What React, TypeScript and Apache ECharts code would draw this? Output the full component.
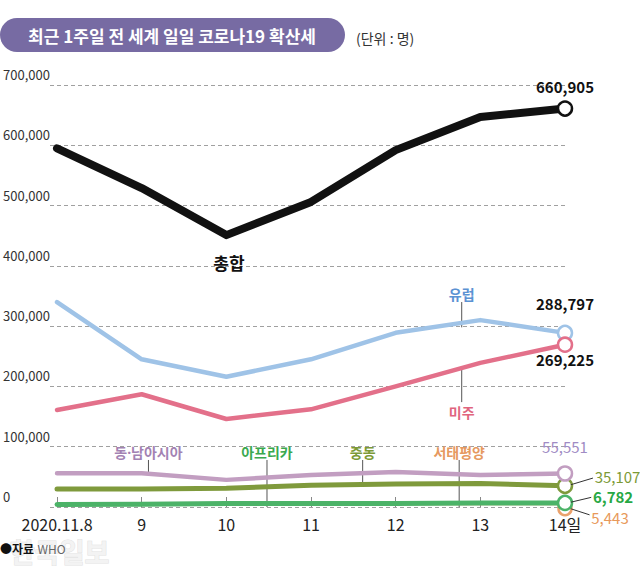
import React, { useEffect, useRef } from "react";
import * as echarts from "echarts";

const dates = ["2020.11.8", "9", "10", "11", "12", "13", "14일"];
const yTicks = [0, 100000, 200000, 300000, 400000, 500000, 600000, 700000];
const total = [595000, 529000, 451000, 506000, 592000, 647000, 660905];
const europe = [340000, 245000, 216000, 245000, 289000, 310000, 288797];
const americas = [161000, 187000, 146000, 162000, 200000, 239000, 269225];
const seAsia = [56000, 56000, 45000, 53000, 58000, 53000, 55551];
const middleEast = [30000, 30000, 31000, 36000, 38000, 39000, 35107];
const africa = [4000, 4500, 6000, 5800, 6000, 6800, 6782];
const westPacific = [4500, 5000, 5000, 4800, 5200, 5500, 5443];

const FONT = "'Noto Sans CJK KR', 'Noto Sans', sans-serif";
const FONT_LATIN_FIRST = "'Noto Sans', 'Noto Sans CJK KR', sans-serif";

const C = {
  total: "#111111",
  europe: "#9fc3e7",
  americas: "#e3708a",
  seAsia: "#c29ec1",
  middleEast: "#7f9a3c",
  africa: "#4cb368",
  westPacific: "#eaa26c",
};

// annotation placements (data space)
const nameLabels = [
  { text: "총합", x: 2.03, y: 405000, color: "#111", size: 17, weight: "bold", lead: null, font: FONT },
  { text: "유럽", x: 4.78, y: 353000, color: "#5b92d3", size: 14, weight: "bold", lead: [340000, 298000], font: FONT },
  { text: "미주", x: 4.78, y: 157000, color: "#e0647e", size: 14, weight: "bold", lead: [232000, 174000], font: FONT },
  { text: "동·남아시아", x: 1.08, y: 91000, color: "#a382b3", size: 14, weight: "bold", lead: [78000, 56000], font: FONT_LATIN_FIRST },
  { text: "아프리카", x: 2.48, y: 91000, color: "#3aa94e", size: 14, weight: "bold", lead: [78000, 0], font: FONT },
  { text: "중동", x: 3.61, y: 91000, color: "#7c9a36", size: 14, weight: "bold", lead: [78000, 37000], font: FONT },
  { text: "서태평양", x: 4.75, y: 91000, color: "#e6995f", size: 14, weight: "bold", lead: [78000, 0], font: FONT },
];

const endLabels = [
  { text: "660,905", x: 6.0, y: 698000, color: "#111", align: "center", weight: "bold", lead: null },
  { text: "288,797", x: 6.0, y: 337000, color: "#111", align: "center", weight: "bold", lead: null },
  { text: "269,225", x: 6.0, y: 244000, color: "#111", align: "center", weight: "bold", lead: null },
  { text: "55,551", x: 6.0, y: 100000, color: "#a08bc4", align: "center", weight: "normal", lead: null },
  { text: "35,107", x: 6.35, y: 51000, color: "#7c9a36", align: "left", weight: "normal", lead: [6.07, 37000, 6.33, 48000] },
  { text: "6,782", x: 6.33, y: 18000, color: "#27a844", align: "left", weight: "bold", lead: [6.07, 8000, 6.31, 16000] },
  { text: "5,443", x: 6.31, y: -17000, color: "#e8995a", align: "left", weight: "normal", lead: [6.07, -3000, 6.29, -13000] },
];

function makeSeries(name: string, vals: number[], color: string, width: number, size: number, z: number, offset = 0) {
  return {
    name,
    type: "line",
    z,
    data: vals.map((v, i) => [i, v]),
    symbol: (_v: any, p: any) => (p.dataIndex === vals.length - 1 ? "circle" : "none"),
    symbolSize: size,
    symbolOffset: [0, offset],
    showSymbol: true,
    lineStyle: { color, width, cap: "round", join: "round" },
    itemStyle: { color: "#ffffff", borderColor: color, borderWidth: 2.5 },
    emphasis: { disabled: true },
    clip: false,
  };
}

export default function App() {
  const ref = useRef<HTMLDivElement>(null);
  useEffect(() => {
    if (!ref.current) return;
    const chart = echarts.init(ref.current, null, { renderer: "svg" });
    const option: any = {
      animation: false,
      backgroundColor: "#ffffff",
      textStyle: { fontFamily: FONT },
      grid: { left: 50, right: 75, top: 85, bottom: 64 },
      xAxis: {
        type: "value",
        min: -0.083,
        max: 6.0,
        axisLine: { show: false },
        splitLine: { show: false },
        axisTick: {
          show: true,
          inside: true,
          length: 10,
          customValues: dates.map((_, i) => i),
          lineStyle: { color: "#888", width: 1 },
        },
        axisLabel: {
          customValues: dates.map((_, i) => i),
          formatter: (v: number) => dates[Math.round(v)] ?? "",
          color: "#222",
          fontSize: 16,
          margin: 9,
          fontFamily: FONT,
        },
      },
      yAxis: {
        type: "value",
        min: yTicks[0],
        max: yTicks[yTicks.length - 1],
        interval: 100000,
        axisLine: { show: false },
        axisTick: { show: false },
        splitLine: { show: true, lineStyle: { type: [4, 3], color: "#a0a0a0", width: 1 } },
        axisLabel: {
          formatter: (v: number) => (v === 0 ? "0" : v.toLocaleString("en-US")),
          color: "#333",
          fontSize: 13,
          align: "left",
          verticalAlign: "bottom",
          margin: 47,
          padding: [0, 0, 4, 0],
          fontFamily: FONT,
        },
      },
      series: [
        makeSeries("서태평양", westPacific, C.westPacific, 3, 13, 2, 5),
        makeSeries("아프리카", africa, C.africa, 5, 14, 3),
        makeSeries("중동", middleEast, C.middleEast, 5, 14, 4),
        makeSeries("동·남아시아", seAsia, C.seAsia, 4.5, 14, 5),
        makeSeries("유럽", europe, C.europe, 4.5, 14, 6),
        makeSeries("미주", americas, C.americas, 4.5, 14, 7),
        makeSeries("총합", total, C.total, 8, 14, 8),
      ],
    };
    chart.setOption(option);

    const px = (x: number, y: number) => chart.convertToPixel({ gridIndex: 0 }, [x, y]) as number[];
    const g: any[] = [];
    g.push({
      type: "rect",
      shape: { x: 0, y: 18, width: 345, height: 34, r: 17 },
      style: { fill: "#776ba3" },
    });
    g.push({
      type: "text",
      x: 172,
      y: 35,
      style: {
        text: "최근 1주일 전 세계 일일 코로나19 확산세",
        fill: "#fff",
        font: `bold 17px ${FONT}`,
        align: "center",
        verticalAlign: "middle",
      },
    });
    g.push({
      type: "text",
      x: 356,
      y: 38,
      style: { text: "(단위 : 명)", fill: "#333", font: `14px ${FONT}`, align: "left", verticalAlign: "middle" },
    });
    g.push({
      type: "text",
      x: 10,
      y: 551,
      z: 0,
      style: { text: "한국일보", fill: "#f3f3f3", stroke: "#e2e2e2", lineWidth: 1, font: `bold 27px ${FONT}`, align: "left", verticalAlign: "middle" },
    });
    g.push({
      type: "text",
      x: 0,
      y: 548,
      style: {
        text: "{a|●자료} {b|WHO}",
        rich: {
          a: { fill: "#111", font: `bold 12px ${FONT}` },
          b: { fill: "#666", font: `12px ${FONT}` },
        },
        align: "left",
        verticalAlign: "middle",
      },
    });

    nameLabels.forEach((l) => {
      const p = px(l.x, l.y);
      if (l.lead) {
        const a = px(l.x, l.lead[0]);
        const b = px(l.x, l.lead[1]);
        g.push({
          type: "line",
          shape: { x1: a[0], y1: a[1], x2: b[0], y2: b[1] },
          style: { stroke: "#555", lineWidth: 1 },
          z: 1,
        });
      }
      g.push({
        type: "text",
        x: p[0],
        y: p[1],
        z: 10,
        style: { text: l.text, fill: l.color, font: `${l.weight} ${l.size}px ${l.font}`, align: "center", verticalAlign: "middle" },
      });
    });

    endLabels.forEach((l) => {
      const p = px(l.x, l.y);
      if (l.lead) {
        const a = px(l.lead[0], l.lead[1]);
        const b = px(l.lead[2], l.lead[3]);
        g.push({
          type: "line",
          shape: { x1: a[0], y1: a[1], x2: b[0], y2: b[1] },
          style: { stroke: "#333", lineWidth: 1 },
          z: 10,
        });
      }
      g.push({
        type: "text",
        x: p[0],
        y: p[1],
        z: 10,
        style: { text: l.text, fill: l.color, font: `${l.weight} 15px ${FONT}`, align: l.align, verticalAlign: "middle" },
      });
    });

    chart.setOption({ graphic: g });
    return () => chart.dispose();
  }, []);
  return (
    <div
      ref={ref}
      style={{ position: "fixed", left: 0, top: 0, width: 640, height: 571, background: "#fff" }}
    />
  );
}
